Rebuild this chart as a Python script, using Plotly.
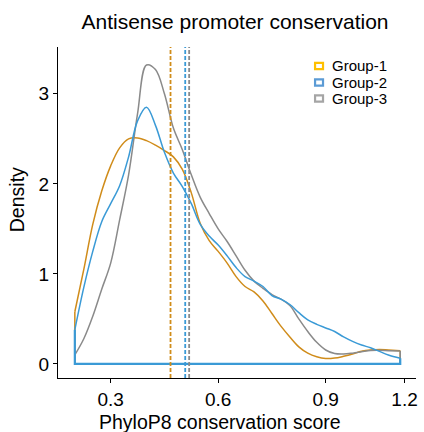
import plotly.graph_objects as go

# ---- data ----
x_grid = [0.2, 0.225, 0.25, 0.275, 0.3, 0.325, 0.35, 0.375, 0.4, 0.425, 0.45, 0.475,
          0.5, 0.525, 0.55, 0.575, 0.6, 0.625, 0.65, 0.675, 0.7, 0.725, 0.75, 0.775,
          0.8, 0.825, 0.85, 0.875, 0.9, 0.925, 0.95, 0.975, 1.0, 1.025, 1.05, 1.075, 1.108]

group1 = [0.58, 1.05, 1.55, 1.92, 2.2, 2.4, 2.5, 2.51, 2.48, 2.43, 2.37, 2.3,
          2.16, 1.9, 1.56, 1.37, 1.25, 1.12, 0.97, 0.86, 0.8, 0.7, 0.56, 0.42,
          0.3, 0.19, 0.12, 0.08, 0.06, 0.065, 0.085, 0.11, 0.14, 0.155, 0.16, 0.155, 0.148]

group2 = [0.38, 0.85, 1.25, 1.58, 1.78, 1.98, 2.3, 2.7, 2.85, 2.65, 2.35, 2.12,
          1.97, 1.78, 1.55, 1.42, 1.32, 1.2, 1.07, 0.97, 0.92, 0.86, 0.76, 0.72,
          0.66, 0.57, 0.49, 0.44, 0.4, 0.36, 0.3, 0.25, 0.21, 0.18, 0.14, 0.1, 0.063]

group3 = [0.1, 0.28, 0.53, 0.83, 1.12, 1.6, 2.1, 2.78, 3.32, 3.27, 3.0, 2.62,
          2.38, 2.1, 1.85, 1.67, 1.5, 1.36, 1.2, 1.04, 0.92, 0.84, 0.77, 0.72,
          0.65, 0.5, 0.36, 0.24, 0.155, 0.115, 0.11, 0.12, 0.135, 0.15, 0.152, 0.148, 0.144]

group_names = ["Group-1", "Group-2", "Group-3"]
group_means = [0.467, 0.508, 0.519]

x_ticks = [0.3, 0.6, 0.9, 1.12]
x_tick_labels = ["0.3", "0.6", "0.9", "1.2"]
y_ticks = [0, 1, 2, 3]

line_colors = ["#D08C1A", "#3A9AD6", "#8A8A8A"]
legend_colors = ["#FFC000", "#5B9BD5", "#A5A5A5"]

FONT = "Arial, Liberation Sans, sans-serif"

# plot-area geometry in pixels (for placing legend/labels in paper coords)
W, H = 424, 432
L, R, T, B = 58, 6, 47, 54
PW, PH = W - L - R, H - T - B


def px_x(px):
    return (px - L) / PW


def px_y(py):
    return (H - B - py) / PH


series = [group1, group2, group3]
fig = go.Figure()

# draw order: group1, group3, group2 (blue on top)
for i in [0, 2, 1]:
    ys = series[i]
    col = line_colors[i]
    fig.add_trace(go.Scatter(x=x_grid, y=ys, mode="lines", name=group_names[i],
                             line=dict(color=col, width=1.5, shape="spline", smoothing=1.0),
                             showlegend=False, hoverinfo="skip"))
    fig.add_trace(go.Scatter(x=[x_grid[-1], x_grid[-1], x_grid[0], x_grid[0]],
                             y=[ys[-1], 0, 0, ys[0]], mode="lines",
                             line=dict(color=col, width=2.2 if i == 1 else 1.5),
                             showlegend=False, hoverinfo="skip"))

# mean lines
for i in range(3):
    fig.add_vline(x=group_means[i], line=dict(color=line_colors[i], width=1.8, dash="4px,2px"))

# custom legend (keys + labels)
legend_rows_px = [66, 82.5, 98.5]
for i in range(3):
    cy = legend_rows_px[i]
    fig.add_shape(type="rect", xref="paper", yref="paper",
                  x0=px_x(316.5), x1=px_x(324.5), y0=px_y(cy + 3.2), y1=px_y(cy - 3.2),
                  line=dict(color=legend_colors[i], width=2.2), fillcolor="rgba(0,0,0,0)")
    fig.add_annotation(text=group_names[i], xref="paper", yref="paper",
                       x=px_x(332), y=px_y(cy), xanchor="left", yanchor="middle",
                       showarrow=False, font=dict(size=15, family=FONT, color="black"))

# axis titles
fig.add_annotation(text="PhyloP8 conservation score", xref="paper", yref="paper",
                   x=px_x(221), y=px_y(422), xanchor="center", yanchor="middle",
                   showarrow=False, font=dict(size=19.5, family=FONT, color="black"))
fig.add_annotation(text="Density", xref="paper", yref="paper", textangle=-90,
                   x=px_x(17), y=px_y(200), xanchor="center", yanchor="middle",
                   showarrow=False, font=dict(size=19.5, family=FONT, color="black"))

fig.update_layout(
    width=W, height=H,
    margin=dict(l=L, r=R, t=T, b=B),
    paper_bgcolor="white", plot_bgcolor="white",
    font=dict(family=FONT, color="black"),
    title=dict(text="Antisense promoter conservation", x=235 / W, xanchor="center",
               y=1 - 22 / H, yanchor="middle", yref="container",
               font=dict(size=21, color="black", family=FONT)),
    showlegend=False,
    xaxis=dict(range=[0.153, 1.152], tickvals=x_ticks, ticktext=x_tick_labels,
               showgrid=False, zeroline=False, showline=True, linecolor="black", linewidth=1,
               ticks="outside", ticklen=4, tickcolor="black",
               tickfont=dict(size=19, family=FONT, color="black")),
    yaxis=dict(range=[-0.156, 3.52], tickvals=y_ticks,
               showgrid=False, zeroline=False, showline=True, linecolor="black", linewidth=1,
               ticks="outside", ticklen=4, tickcolor="black",
               tickfont=dict(size=19, family=FONT, color="black")),
)

fig.write_html("out.html")
